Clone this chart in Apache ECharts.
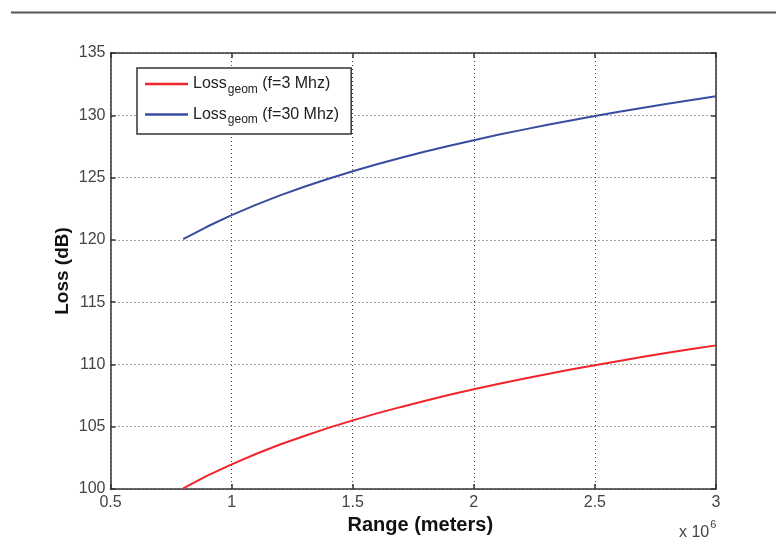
<!DOCTYPE html>
<html>
<head>
<meta charset="utf-8">
<script src="https://cdn.jsdelivr.net/npm/echarts@6/dist/echarts.min.js"></script>
<style>
html,body{margin:0;padding:0;background:#fff;}
#chart{width:776px;height:542px;}
</style>
</head>
<body>
<div id="chart"></div>
<script>
// Range in units of 10^6 meters
const range = [0.8, 0.9, 1.0, 1.1, 1.2, 1.3, 1.4, 1.5, 1.6, 1.7, 1.8, 1.9, 2.0, 2.1, 2.2, 2.3, 2.4, 2.5, 2.6, 2.7, 2.8, 2.9, 3.0];
// Loss (dB), f = 3 MHz
const loss3MHz = [100.05, 101.07, 101.98, 102.81, 103.57, 104.26, 104.91, 105.51, 106.07, 106.59, 107.09, 107.56, 108.00, 108.43, 108.83, 109.22, 109.59, 109.94, 110.28, 110.61, 110.93, 111.23, 111.53];
// Loss (dB), f = 30 MHz
const loss30MHz = [120.05, 121.07, 121.98, 122.81, 123.57, 124.26, 124.91, 125.51, 126.07, 126.59, 127.09, 127.56, 128.00, 128.43, 128.83, 129.22, 129.59, 129.94, 130.28, 130.61, 130.93, 131.23, 131.53];
const seriesNames = ['Loss geom (f=3 Mhz)', 'Loss geom (f=30 Mhz)'];
const legendLabels = ['(f=3 Mhz)', '(f=30 Mhz)'];
const xTicks = [0.5, 1, 1.5, 2, 2.5, 3];
const yTicks = [100, 105, 110, 115, 120, 125, 130, 135];

const FONT = '"Liberation Sans", Arial, sans-serif';
const chart = echarts.init(document.getElementById('chart'), null, {renderer: 'canvas'});

const pair = (xs, ys) => xs.map((x, i) => [x, ys[i]]);

const option = {
  animation: false,
  backgroundColor: '#ffffff',
  grid: {left: 110.5, right: 60, top: 53, bottom: 53, containLabel: false},
  xAxis: [{
    type: 'value', min: 0.5, max: 3, interval: 0.5,
    name: 'Range (meters)', nameLocation: 'middle', nameGap: 26,
    nameTextStyle: {fontFamily: FONT, fontSize: 20, fontWeight: 'bold', color: '#111', padding: [0, 0, 0, 14]},
    axisLine: {show: true, lineStyle: {color: '#333', width: 1.5}},
    axisTick: {show: true, inside: true, length: 5, lineStyle: {color: '#333', width: 1.5}},
    axisLabel: {fontFamily: FONT, fontSize: 16, color: '#444', margin: 6,
      formatter: v => String(v)},
    splitLine: {show: true, lineStyle: {color: '#444', type: [1, 3], width: 1}}
  }, {
    type: 'value', min: 0.5, max: 3, interval: 0.5, position: 'top',
    axisLine: {show: true, lineStyle: {color: '#333', width: 1.5}},
    axisTick: {show: true, inside: true, length: 5, lineStyle: {color: '#333', width: 1.5}},
    axisLabel: {show: false}, splitLine: {show: false}
  }],
  yAxis: [{
    type: 'value', min: 100, max: 135, interval: 5,
    name: 'Loss (dB)', nameLocation: 'middle', nameGap: 38, nameRotate: 90,
    nameMoveOverlap: false,
    nameTextStyle: {fontFamily: FONT, fontSize: 19, fontWeight: 'bold', color: '#111'},
    axisLine: {show: true, lineStyle: {color: '#333', width: 1.5}},
    axisTick: {show: true, inside: true, length: 5, lineStyle: {color: '#333', width: 1.5}},
    axisLabel: {fontFamily: FONT, fontSize: 16, color: '#444', margin: 5},
    splitLine: {show: true, lineStyle: {color: '#444', type: [1, 3], width: 1}}
  }, {
    type: 'value', min: 100, max: 135, interval: 5, position: 'right',
    axisLine: {show: true, lineStyle: {color: '#333', width: 1.5}},
    axisTick: {show: true, inside: true, length: 5, lineStyle: {color: '#333', width: 1.5}},
    axisLabel: {show: false}, splitLine: {show: false}
  }],
  legend: {
    orient: 'vertical', left: 137, top: 68,
    icon: 'rect', itemWidth: 43, itemHeight: 2.5, itemGap: 11,
    padding: [8, 12, 8, 8],
    backgroundColor: '#fff',
    borderColor: '#333', borderWidth: 1.5, borderRadius: 0,
    data: seriesNames,
    formatter: name => {
      const i = seriesNames.indexOf(name);
      return '{a|Loss}{b|geom}{c| ' + legendLabels[i] + '}';
    },
    textStyle: {
      fontFamily: FONT, color: '#222',
      rich: {
        a: {fontFamily: FONT, fontSize: 16, color: '#222'},
        b: {fontFamily: FONT, fontSize: 12, color: '#222', padding: [11, 0, 0, 1]},
        c: {fontFamily: FONT, fontSize: 16, color: '#222'}
      }
    }
  },
  series: [{
    name: seriesNames[0], type: 'line', symbol: 'none', xAxisIndex: 0, yAxisIndex: 0,
    data: pair(range, loss3MHz), smooth: false,
    lineStyle: {color: '#f0242a', width: 2}, itemStyle: {color: '#f0242a'}
  }, {
    name: seriesNames[1], type: 'line', symbol: 'none', xAxisIndex: 0, yAxisIndex: 0,
    data: pair(range, loss30MHz), smooth: false,
    lineStyle: {color: '#3a4ca0', width: 2}, itemStyle: {color: '#3a4ca0'}
  }],
  graphic: [{
    type: 'line', shape: {x1: 11, y1: 12.5, x2: 776, y2: 12.5},
    style: {stroke: '#555', lineWidth: 2}
  }, {
    type: 'text', left: 679, top: 519,
    style: {
      text: '{a|x 10}{b|6}',
      rich: {
        a: {fontFamily: FONT, fontSize: 16, fill: '#444', padding: [8, 0, 0, 0]},
        b: {fontFamily: FONT, fontSize: 11, fill: '#444', padding: [0, 0, 8, 1]}
      }
    }
  }]
};
chart.setOption(option);
</script>
</body>
</html>
